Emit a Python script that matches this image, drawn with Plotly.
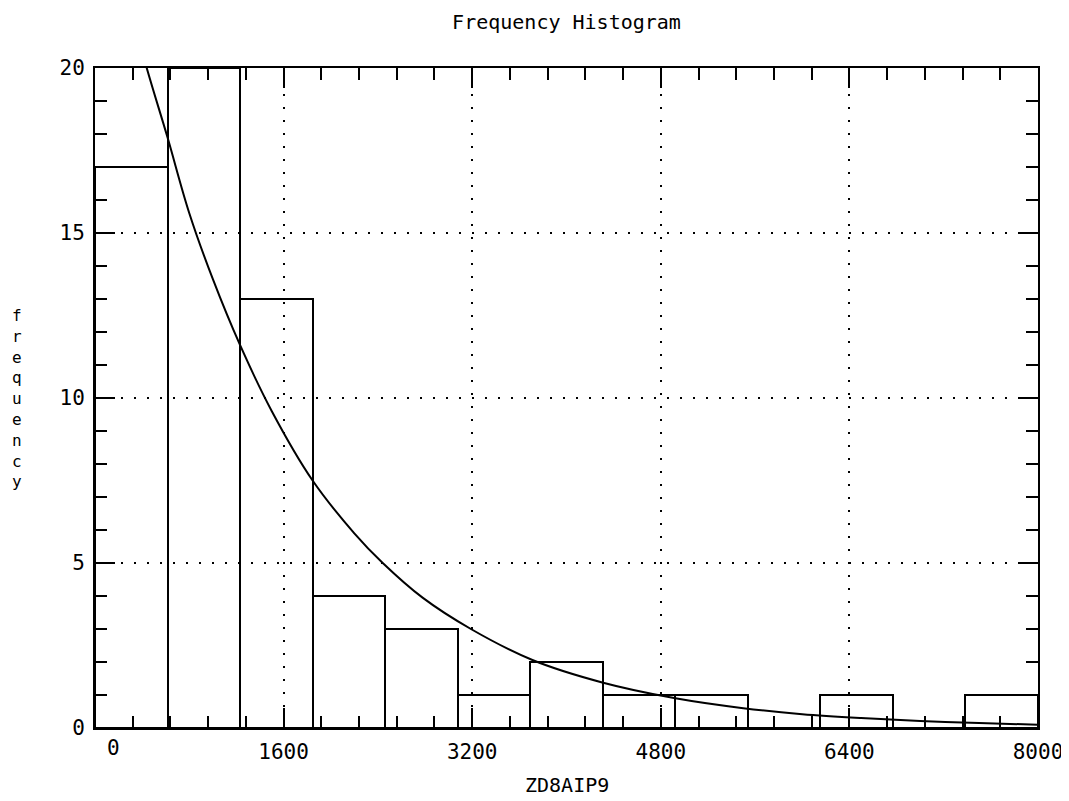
import plotly.graph_objects as go

# ---- data ----
bin_start = 0
bin_width = 8000 / 13
bin_counts = [17, 20, 13, 4, 3, 1, 2, 1, 1, 0, 1, 0, 1]

curve_x = [0, 250, 400, 615, 800, 1000, 1231, 1500, 1846, 2200, 2441, 2779,
           3189, 3711, 4303, 4924, 5500, 6000, 6500, 7000, 7500, 8000]
curve_y = [27.3, 22.8, 20.5, 17.9, 15.6, 13.6, 11.6, 9.6, 7.5, 5.9, 5.0, 3.95,
           3.0, 2.06, 1.38, 0.90, 0.60, 0.42, 0.30, 0.21, 0.15, 0.10]

x_tickvals = [0, 1600, 3200, 4800, 6400, 8000]
x_ticktext = ["", "1600", "3200", "4800", "6400", "8000"]
y_tickvals = [0, 5, 10, 15, 20]

title_text = "Frequency Histogram"
x_title = "ZD8AIP9"
y_title = "frequency"

bin_centers = [bin_start + (i + 0.5) * bin_width for i in range(len(bin_counts))]

FONT = "DejaVu Sans Mono"

fig = go.Figure()
fig.add_trace(go.Bar(
    x=bin_centers, y=bin_counts, width=bin_width,
    marker=dict(color="rgba(0,0,0,0)", line=dict(color="black", width=2)),
    showlegend=False,
))
fig.add_trace(go.Scatter(
    x=curve_x, y=curve_y, mode="lines",
    line=dict(color="black", width=2, shape="spline"),
    showlegend=False,
))

axis_common = dict(
    showline=True, linecolor="black", linewidth=2, mirror="ticks",
    ticks="inside", ticklen=20, tickwidth=2, tickcolor="black",
    showgrid=True, gridcolor="black", gridwidth=2, griddash="2px,11px",
    zeroline=False, automargin=False,
    tickfont=dict(family=FONT, size=21, color="black"),
)

fig.update_xaxes(
    range=[0, 8000], tickmode="array", tickvals=x_tickvals, ticktext=x_ticktext,
    minor=dict(ticks="inside", ticklen=12, tickwidth=2, tickcolor="black",
               dtick=320, tick0=0, showgrid=False),
    ticklabelstandoff=4,
    **axis_common,
)
fig.update_yaxes(
    range=[0, 20], tickmode="array", tickvals=y_tickvals,
    minor=dict(ticks="inside", ticklen=12, tickwidth=2, tickcolor="black",
               dtick=1, tick0=0, showgrid=False),
    ticklabelstandoff=4,
    **axis_common,
)

fig.add_annotation(x=0, y=0, xref="x", yref="y", text="0", showarrow=False,
                   xshift=18, yshift=-20, font=dict(family=FONT, size=21, color="black"))
fig.add_annotation(x=0.5, y=-0.086, xref="paper", yref="paper", text=x_title,
                   showarrow=False, yanchor="middle",
                   font=dict(family=FONT, size=20, color="black"))
fig.add_annotation(x=-0.083, y=0.5, xref="paper", yref="paper",
                   text="<br>".join(list(y_title)), showarrow=False,
                   xanchor="center", yanchor="middle", align="center",
                   font=dict(family=FONT, size=16, color="black"))

fig.update_layout(
    width=1061, height=793,
    margin=dict(l=87, r=31, t=60, b=73, autoexpand=False),
    paper_bgcolor="white", plot_bgcolor="white",
    barmode="overlay", bargap=0,
    title=dict(text=title_text, x=0.5, xref="paper", y=1 - 14 / 793,
               yanchor="middle", font=dict(family=FONT, size=20, color="black")),
    showlegend=False,
)

fig.write_html("out.html")
